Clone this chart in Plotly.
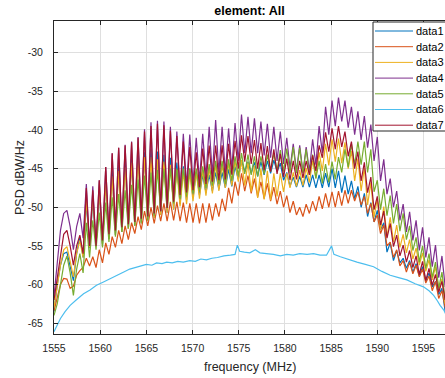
import numpy as np
import plotly.graph_objects as go

# ---------------- data ----------------
FREQ_START = 1555.0   # MHz, first sample of data1..data5, data7
FREQ_STEP = 0.35      # MHz between samples

data1 = [-63.5, -60, -57.5, -56, -55.8, -57.5, -59.5, -56, -53.8, -56.5, -49.3,
         -55.3, -49.1, -55, -48, -54.8, -46.4, -54.1, -45.3, -53.6, -44.5,
         -53.2, -44, -52.8, -43.7, -52.4, -43.3, -52.1, -42.9, -51.7, -42.5,
         -51.4, -42.8, -51, -43.2, -50.7, -43.6, -50.3, -44.2, -49.6, -44.7,
         -49.1, -45, -48.8, -45.4, -48.4, -45.8, -48.1, -45.8, -47.9, -45.5,
         -47.7, -45.5, -47.5, -45.1, -47.3, -44.7, -46.4, -44, -45.4, -44.1,
         -45.6, -44.2, -46, -44.1, -45.8, -44, -45.6, -43.9, -45.4, -44.3,
         -46.5, -45.5, -47.3, -46.1, -47.4, -46, -47.4, -45.8, -47.4, -45.8,
         -47.5, -45.8, -47.5, -45.6, -47.4, -45, -47.5, -45.3, -48.1, -45.9,
         -48.3, -46.6, -48.9, -47.3, -50, -48.2, -51.2, -49.4, -51.9, -50.4,
         -52.9, -52, -55.8, -54.6, -56.9, -55.6, -57.2, -56.6, -57.9, -56.9,
         -58.4, -57.3, -58.9, -57.7, -59.5, -58.5, -60.3, -59.6, -61.3, -60.5, -63.5]

data2 = [-63.4, -61.5, -60, -59.2, -59.3, -60.5, -60.2, -58.8, -58.2, -57.8, -56.6,
         -57.6, -56.4, -57.8, -55.5, -57.2, -54.6, -56.1, -53.8, -55.2, -53,
         -54.7, -52.4, -54.2, -52, -53.4, -51.2, -52.9, -50.5, -52.4, -50,
         -52.1, -49.8, -51.8, -49.5, -51.8, -49.3, -51.7, -49.3, -51.8, -49.4,
         -52, -49.5, -52, -49.5, -52.1, -49.5, -52, -49.5, -51.7, -49.5,
         -51.2, -48.9, -50.5, -47.5, -49.5, -46.7, -48.5, -45.6, -47.9, -45.9,
         -48.2, -46.3, -48.7, -46.7, -48.9, -46.9, -49.2, -47.4, -49.6, -47.9,
         -50, -48.5, -50.7, -49.2, -51, -50, -51.2, -49.6, -50.8, -49.2,
         -50.5, -48.6, -50.2, -48.2, -50, -48, -50, -47.9, -49.8, -47.8,
         -49.5, -47.8, -49.2, -48, -49.7, -48.6, -50.8, -49.5, -51.9, -51,
         -53.4, -52.3, -55, -54.5, -56.5, -55.5, -57.6, -56.9, -58.4, -57.1,
         -58.6, -57.5, -59, -58, -59.8, -58.9, -60.8, -59.6, -61.8, -60.8, -63]

data3 = [-63, -60, -57.5, -55.5, -55.1, -57, -59, -56, -54.3, -56.5, -49,
         -55.2, -48.7, -55, -47.9, -54.8, -46.9, -54.1, -46, -53.6, -45.3,
         -53.2, -44.8, -52.8, -44.2, -52.4, -43.8, -52.1, -43.5, -51.7, -43.5,
         -51.4, -43.8, -51, -44.1, -50.7, -44.5, -50.3, -45.2, -49.9, -45.5,
         -49.6, -45.5, -49.2, -45.5, -48.9, -45.2, -48.5, -44.9, -48.2, -44.5,
         -47.9, -44.5, -47.5, -44.3, -47.2, -44, -46.7, -43.9, -47.2, -44.2,
         -48, -44.6, -48.8, -45, -49, -45.3, -49.1, -45.6, -48.6, -45.6,
         -48, -45.6, -47.5, -45.5, -47.3, -45.2, -47.2, -44.9, -46.8, -44,
         -46.2, -42.9, -45.3, -41.8, -44.6, -41.2, -44.1, -41.1, -44.3, -41.6,
         -45, -42.7, -46.6, -43.7, -47.9, -44.9, -49.7, -46.8, -51.3, -48.9,
         -52.9, -49.9, -53.8, -51.3, -54.5, -52.3, -55.2, -53.5, -55.9, -54.2,
         -56.7, -55.3, -57.5, -55.9, -58.3, -56.8, -59.4, -57.7, -60.7, -59.3, -62.5]

data4 = [-61.5, -57, -53, -50.8, -50.4, -52.5, -55.5, -52.5, -50.8, -54, -47,
         -55, -47.3, -55, -46.5, -54.3, -44.8, -53.5, -43, -53, -42.3,
         -52.6, -41.9, -52.2, -41.5, -51.9, -40.9, -51.5, -39.9, -51.2, -39,
         -50.8, -38.8, -50.5, -38.9, -50.1, -39.6, -49.1, -40.2, -48, -40.5,
         -47.3, -40.6, -46.9, -41, -46.6, -40.5, -46.1, -39.6, -45.8, -38.7,
         -45.5, -39.6, -45.5, -39.8, -45, -39.1, -44, -38, -43, -38.3,
         -43, -38.5, -43, -38.9, -43.3, -39.2, -43.6, -39.6, -44, -40.2,
         -44.4, -41, -45, -41.8, -45.3, -42, -45.5, -42.2, -45.3, -41.2,
         -44.5, -39.5, -43, -37, -40.6, -36.2, -39.5, -35.8, -38.9, -36.2,
         -39.7, -37, -40.6, -37.6, -41.3, -38.2, -42.3, -39.3, -44, -40.9,
         -46.6, -43.8, -48.3, -46.3, -50, -47.9, -51.7, -49.6, -53.2, -50.6,
         -54.3, -51.7, -55.6, -52.6, -56.5, -53.9, -57.7, -54.9, -59.1, -56.3, -60.3]

data5 = [-64, -62.5, -60, -57.5, -56.3, -58.5, -61.4, -58, -56, -58.5, -52,
         -56.5, -51.7, -55.5, -50.7, -55.2, -49.4, -54.5, -48.7, -53.8, -48.3,
         -53.2, -47.8, -52.7, -47.1, -52.4, -46.4, -52, -45.9, -51.7, -45.5,
         -51.1, -45.2, -50.5, -45, -50.1, -45, -49.5, -45, -48.9, -45,
         -48.6, -45, -48.2, -45, -47.9, -44.7, -47.5, -44.4, -47.2, -44,
         -47, -44, -47, -43.8, -46.6, -43.4, -45.9, -43, -45.7, -43.2,
         -45.8, -43.4, -46, -43.4, -45.7, -43.2, -45.4, -43, -45.3, -42.6,
         -45.4, -42.4, -45.6, -42.2, -45.6, -42.3, -45.6, -42.5, -45.8, -43.2,
         -46.3, -44, -46.9, -44.4, -46.8, -44.1, -46.4, -43.5, -45.5, -42.5,
         -44.8, -41.8, -44.5, -41.5, -44.5, -41.5, -45.5, -42.5, -48, -46.5,
         -50.3, -47.6, -51.1, -48.5, -52.1, -49.6, -53.1, -50.8, -54.2, -52.4,
         -55.6, -53.9, -57.1, -55, -57.9, -56, -59.1, -57.1, -60.5, -58.4, -62]

data7 = [-62, -59, -56, -53.5, -53, -55, -57.5, -55, -53.6, -56, -47.5,
         -55, -47.8, -55, -46.5, -54.3, -44.8, -53.5, -43, -53, -42.3,
         -52.6, -42, -52.2, -41.6, -51.9, -41, -51.5, -40.2, -51.2, -39.5,
         -50.8, -39.2, -50.5, -39.4, -50.1, -40.1, -49.3, -40.8, -48.4, -41.5,
         -48.1, -42.2, -47.8, -42.9, -47.4, -42.4, -47, -42, -46.7, -42,
         -46.5, -42, -46.4, -41.8, -45.8, -41.4, -45, -40.7, -44.1, -40.8,
         -44.4, -41.3, -45, -41.7, -45.2, -42.1, -45.4, -42.5, -45.7, -43.1,
         -46.1, -43.7, -46.5, -44, -46.4, -44, -46.2, -44, -45.8, -43.3,
         -45.3, -42, -43.6, -40.3, -42.8, -39.8, -42.5, -39.5, -42.2, -40.2,
         -43.4, -41.5, -45, -42.8, -46.6, -44.2, -48.1, -46.1, -50.3, -48.6,
         -52.3, -50.5, -54, -52.1, -55.1, -53.6, -56.3, -54.9, -57.1, -55.6,
         -57.8, -56.3, -58.7, -57, -59.5, -57.9, -60.1, -58.7, -61, -59.6, -62]

# data6 has its own (irregular) sample frequencies
data6_freq = [1555.0, 1555.35, 1555.7, 1556.2, 1556.75, 1557.4, 1558.2, 1558.9, 1559.6, 1560.3,
              1561.1, 1561.8, 1562.5, 1563.2, 1563.9, 1564.5, 1565.0, 1565.6, 1566.1, 1566.7,
              1567.2, 1567.8, 1568.4, 1569.0, 1569.7, 1570.3, 1570.9, 1571.5, 1572.1, 1572.7,
              1573.4, 1574.1, 1574.6, 1574.85, 1575.1, 1575.6, 1576.2, 1576.8, 1577.3, 1578.0,
              1578.75, 1579.5, 1580.2, 1580.9, 1581.6, 1582.4, 1583.1, 1583.8, 1584.5, 1585.05,
              1585.3, 1586.0, 1586.9, 1587.8, 1588.7, 1589.6, 1590.5, 1591.4, 1592.3, 1593.2,
              1594.1, 1595.0, 1595.6, 1596.1, 1596.5, 1596.8, 1597.2, 1597.4]
data6 = [-66.1, -65.2, -64.4, -63.5, -62.7, -62.0, -61.2, -60.7, -60.1, -59.7,
         -59.2, -58.8, -58.4, -58.0, -57.8, -57.6, -57.4, -57.5, -57.2, -57.3,
         -57.1, -57.2, -57.0, -57.1, -56.9, -57.0, -56.7, -56.8, -56.6, -56.5,
         -56.3, -56.2, -56.1, -54.9, -55.7, -55.8, -55.9, -55.5, -55.9, -56.0,
         -56.1, -56.3, -56.1, -56.2, -56.0, -56.1, -56.0, -56.2, -56.2, -55.0,
         -56.1, -56.4, -56.8, -57.1, -57.4, -57.7, -58.3, -58.8, -59.1, -59.4,
         -59.9, -60.3, -60.8, -61.4, -62.1, -62.7, -63.3, -63.8]

series_names = ["data1", "data2", "data3", "data4", "data5", "data6", "data7"]
series_colors = ["#0072BD", "#D95319", "#EDB120", "#7E2F8E", "#77AC30", "#4DBEEE", "#A2142F"]

x_ticks = [1555, 1560, 1565, 1570, 1575, 1580, 1585, 1590, 1595]
y_ticks = [-65, -60, -55, -50, -45, -40, -35, -30]

# ---------------- figure ----------------
freq = FREQ_START + FREQ_STEP * np.arange(len(data1))
series_x = [freq, freq, freq, freq, freq, np.array(data6_freq), freq]
series_y = [data1, data2, data3, data4, data5, data6, data7]

FONT = "Liberation Sans, Arial, sans-serif"
AX = "#262626"

fig = go.Figure()
for name, color, xs, ys in zip(series_names, series_colors, series_x, series_y):
    fig.add_trace(go.Scatter(x=xs, y=ys, mode="lines", name=name,
                             line=dict(color=color, width=1.2), showlegend=False))

W, H = 445, 378
L, R, T, B = 54, 0, 21, 44
pw, ph = W - L - R, H - T - B


def px(xpix):
    return (xpix - L) / pw


def py(ypix):
    return (H - B - ypix) / ph


# hand-built legend box (MATLAB style, clipped at the right edge)
shapes = [dict(type="rect", xref="paper", yref="paper",
               x0=px(373), x1=px(460), y0=py(131), y1=py(22),
               fillcolor="white", line=dict(color=AX, width=1), layer="above")]
annotations = []
for i, (name, color) in enumerate(zip(series_names, series_colors)):
    yrow = 31 + 15.7 * i
    shapes.append(dict(type="line", xref="paper", yref="paper",
                       x0=px(375), x1=px(413), y0=py(yrow), y1=py(yrow),
                       line=dict(color=color, width=1), layer="above"))
    annotations.append(dict(xref="paper", yref="paper", x=px(414), y=py(yrow),
                            xanchor="left", yanchor="middle", showarrow=False,
                            text=name, font=dict(family=FONT, size=11, color="#000000")))

# axis titles placed like the reference
annotations.append(dict(xref="paper", yref="paper", x=px(250), y=py(367),
                        xanchor="center", yanchor="middle", showarrow=False,
                        text="frequency (MHz)", font=dict(family=FONT, size=12.5, color=AX)))
annotations.append(dict(xref="paper", yref="paper", x=px(20), y=py(178),
                        xanchor="center", yanchor="middle", showarrow=False, textangle=-90,
                        text="PSD dBW/Hz", font=dict(family=FONT, size=12.5, color=AX)))

fig.update_layout(
    width=W, height=H,
    margin=dict(l=L, r=R, t=T, b=B, pad=0),
    paper_bgcolor="white", plot_bgcolor="white",
    title=dict(text="<b>element: All</b>", x=0.5, xref="paper", xanchor="center",
               y=1 - 11 / H, yref="container", yanchor="middle",
               font=dict(family=FONT, size=12.5, color="#000000")),
    shapes=shapes, annotations=annotations,
    showlegend=False,
)
fig.update_xaxes(
    range=[1555, 1597.33], tickvals=x_ticks, ticktext=[str(v) for v in x_ticks],
    ticks="inside", ticklen=4, tickcolor=AX, tickwidth=1,
    showline=True, linecolor=AX, linewidth=1, mirror="ticks",
    showgrid=True, gridcolor="#dfdfdf", gridwidth=1, zeroline=False,
    tickfont=dict(family=FONT, size=10.5, color=AX), ticklabelstandoff=4,
)
fig.update_yaxes(
    range=[-66.4, -25.9], tickvals=y_ticks, ticktext=[str(v) for v in y_ticks],
    ticks="inside", ticklen=4, tickcolor=AX, tickwidth=1,
    showline=True, linecolor=AX, linewidth=1, mirror=False,
    showgrid=True, gridcolor="#dfdfdf", gridwidth=1, zeroline=False,
    tickfont=dict(family=FONT, size=10.5, color=AX), ticklabelstandoff=8,
)

# the page's default 8px body margin would push the 445x378 figure off the window
fig.write_html("out.html", config={"displayModeBar": False},
               post_script="document.body.style.margin='0';")
